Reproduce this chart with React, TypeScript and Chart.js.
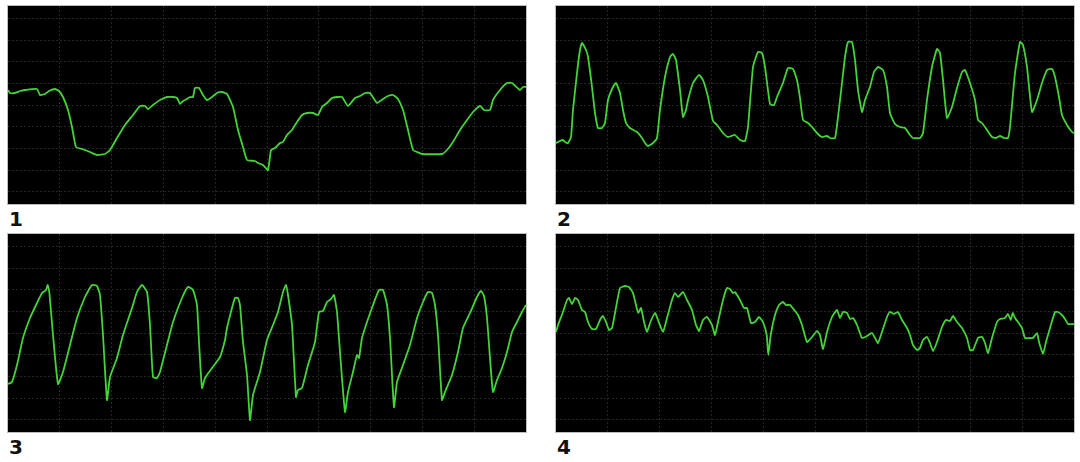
import React, { useEffect, useRef } from "react";
import { Chart, registerables } from "chart.js";

Chart.register(...registerables);

// Time axis in samples (10 divisions per trace), amplitude in arbitrary units (0..198)
const X_MAX = 518;
const Y_MAX = 198;
const xGridTicks = [51.8, 103.6, 155.4, 207.2, 259, 310.8, 362.6, 414.4, 466.2];
const yGridTicks = [12.3, 34, 55.7, 77.3, 99, 120.7, 142.3, 164, 185.7];

const panelLabels = ["1", "2", "3", "4"];

const trace1Time = [0,2,7,12,17,29,32,37,41,47,51,55,60,64,68,74,82,89,97,102,109,117,125,132,137,140,145,152,159,165,169,172,175,179,182,185,187,191,195,199,204,209,214,219,225,230,235,239,247,250,255,260,263,267,272,275,279,284,289,294,299,305,310,314,319,324,329,334,340,347,352,357,362,369,375,380,385,390,395,400,405,409,414,434,439,445,452,459,465,472,476,482,485,492,499,504,512,515,518];
const trace1Value = [114,111,111,113,114,115,109,110,113,115,113,107,94,77,57,55,52,49,50,54,66,79,89,98,98,95,99,104,107,107,106,100,103,105,107,107,116,116,109,104,107,111,112,110,97,74,57,44,43,41,39,34,54,56,61,62,69,74,82,89,91,91,89,97,101,106,107,107,98,106,108,111,111,101,105,108,109,105,94,74,54,52,50,50,54,62,74,84,92,98,94,94,104,114,121,121,114,117,117];

const trace2Time = [0,4,7,9,12,15,17,21,24,26,30,32,36,39,42,46,49,52,57,60,64,67,70,74,81,86,89,92,97,101,104,109,114,117,120,124,127,130,132,137,143,147,152,157,161,167,172,179,184,189,192,197,202,206,209,214,218,221,227,232,237,241,244,247,252,256,261,266,271,274,279,282,286,289,292,296,299,302,306,309,314,318,322,327,331,334,339,344,349,354,357,364,367,371,376,381,384,387,391,396,401,406,409,414,419,422,426,431,436,440,444,448,452,454,459,464,467,471,476,481,486,491,496,499,503,506,511,516,518];
const trace2Value = [61,63,64,62,61,67,94,131,154,161,154,147,117,91,76,76,81,104,117,121,111,94,81,76,72,66,61,58,61,66,94,127,147,150,144,114,87,94,104,121,129,124,107,83,79,71,67,69,64,63,77,137,152,151,137,100,99,107,121,136,135,124,106,84,81,77,71,67,68,66,66,87,121,147,162,162,144,114,92,104,117,132,137,134,117,91,80,77,76,69,66,66,71,104,137,155,151,124,86,97,116,132,134,121,104,84,81,74,67,66,68,66,66,77,131,162,159,137,92,104,121,134,135,127,107,89,79,72,71];

const trace3Time = [0,4,9,15,22,29,34,38,39.7,41.3,45,50,55,62,69,77,84,89,92,95,99,102,109,115,124,129,134,139,142,145,149,152,159,165,174,180,185,189,191,194,197,204,212,217,219,224,227,230,232,235,239,242,245,252,259,265,270,275,278,280,284,288,290,294,300,307,311,315,319,323,326,329,332,337,340,345,349,351,354,359,365,371,375,379,382,386,389,395,402,409,415,420,424,427,430,434,437,444,450,455,462,469,473,476,479,482,485,489,494,499,504,509,514,518];
const trace3Value = [48,50,67,94,114,129,139,142,147,140,97,48,60,87,114,135,147,146,137,97,32,55,74,97,124,140,147,140,107,55,54,60,87,110,134,145,142,127,90,44,54,64,75,92,104,124,134,134,127,90,57,12,37,60,92,107,120,140,147,137,107,35,42,44,67,90,120,121,130,133,137,120,80,20,40,60,77,74,94,110,127,142,142,127,94,25,50,67,87,114,130,140,139,127,97,32,40,57,80,104,119,135,141,136,114,74,40,52,64,80,100,110,120,127];

const trace4Time = [0,2,7,11,13,16,19,22,26,29,32,36,40,44,47,50,53,56,59,64,69,73,77,80.7,82.3,85,88,91,94,99,102,107,111,116,119,122,127,131,136,140,143,147,151,156,159,162,167,171,174,177,179,184,188,191,195,199,203,207,210.7,212.3,214.7,219,223,227,230,234,239,242,246,251,256,261,264,267,271,276,281,284,287,291,294,297,301,306,311,316,319,322,326,331,334,338,342,346,351,354,357,361,364,367,371,374,377,381,386,390,394,397,401,406,411,414,417,422,426,429,432,436,441,444,449,452,454.7,456.7,459,462,466,469,474,477,481,483,487,490,494,499,502,506,509,512,518];
const trace4Value = [100,107,120,132,134,128,134,132,122,120,110,103,103,112,116,110,102,104,119,144,146,145,139,124,119,124,110,100,109,119,112,100,114,132,139,135,140,132,122,107,101,112,115,107,97,110,132,144,143,139,140,132,124,124,109,110,115,110,97,77,97,117,127,130,127,127,121,117,107,90,95,101,97,83,100,115,122,114,120,119,113,114,107,94,96,99,94,89,100,115,120,118,120,112,104,97,87,82,84,92,95,89,81,90,105,112,111,116,110,104,94,82,82,94,95,89,79,94,110,113,114,118,112,119,114,110,104,94,94,94,99,90,78,90,104,120,120,117,113,108,108];

const traces = [
  { time: trace1Time, value: trace1Value },
  { time: trace2Time, value: trace2Value },
  { time: trace3Time, value: trace3Value },
  { time: trace4Time, value: trace4Value },
];

const PANEL_W = 518;
const PANEL_H = 198;
const panelPos = [
  { left: 8, top: 6 },
  { left: 556, top: 6 },
  { left: 8, top: 234 },
  { left: 556, top: 234 },
];

function Trace({ time, value }: { time: number[]; value: number[] }) {
  const ref = useRef<HTMLCanvasElement | null>(null);
  useEffect(() => {
    if (!ref.current) return;
    const data = time.map((t, i) => ({ x: t, y: value[i] }));
    const gridColor = "rgba(85,85,85,0.45)";
    const chart = new Chart(ref.current, {
      type: "line",
      data: {
        datasets: [
          {
            data,
            borderColor: "#44d338",
            borderWidth: 1.8,
            pointRadius: 0,
            tension: 0.15,
            fill: false,
          },
        ],
      },
      options: {
        animation: false,
        responsive: false,
        maintainAspectRatio: false,
        layout: { padding: 0 },
        plugins: { legend: { display: false }, tooltip: { enabled: false } },
        scales: {
          x: {
            type: "linear",
            min: 0,
            max: X_MAX,
            afterBuildTicks: (s: any) => {
              s.ticks = xGridTicks.map((v) => ({ value: v }));
            },
            ticks: { display: false },
            grid: { color: gridColor, drawTicks: false, lineWidth: 1 },
            border: { display: false, dash: [2, 2] },
          },
          y: {
            type: "linear",
            min: 0,
            max: Y_MAX,
            afterBuildTicks: (s: any) => {
              s.ticks = yGridTicks.map((v) => ({ value: v }));
            },
            ticks: { display: false },
            grid: { color: gridColor, drawTicks: false, lineWidth: 1 },
            border: { display: false, dash: [2, 2] },
          },
        },
      },
    });
    return () => chart.destroy();
  }, [time, value]);
  return (
    <canvas
      ref={ref}
      width={PANEL_W}
      height={PANEL_H}
      style={{ display: "block", width: PANEL_W, height: PANEL_H }}
    />
  );
}

export default function App() {
  return (
    <div>
      {traces.map((tr, i) => {
        const p = panelPos[i];
        return (
          <React.Fragment key={i}>
            <div
              style={{
                position: "absolute",
                left: p.left - 1,
                top: p.top - 1,
                width: PANEL_W,
                height: PANEL_H,
                border: "1px solid #bdbdbd",
                background: "#000",
              }}
            >
              <Trace time={tr.time} value={tr.value} />
            </div>
            <div
              style={{
                position: "absolute",
                left: p.left + 1,
                top: p.top + PANEL_H + 5,
                fontFamily: "'DejaVu Sans', sans-serif",
                fontWeight: "bold",
                fontSize: 20,
                lineHeight: "20px",
                color: "#111",
              }}
            >
              {panelLabels[i]}
            </div>
          </React.Fragment>
        );
      })}
    </div>
  );
}
